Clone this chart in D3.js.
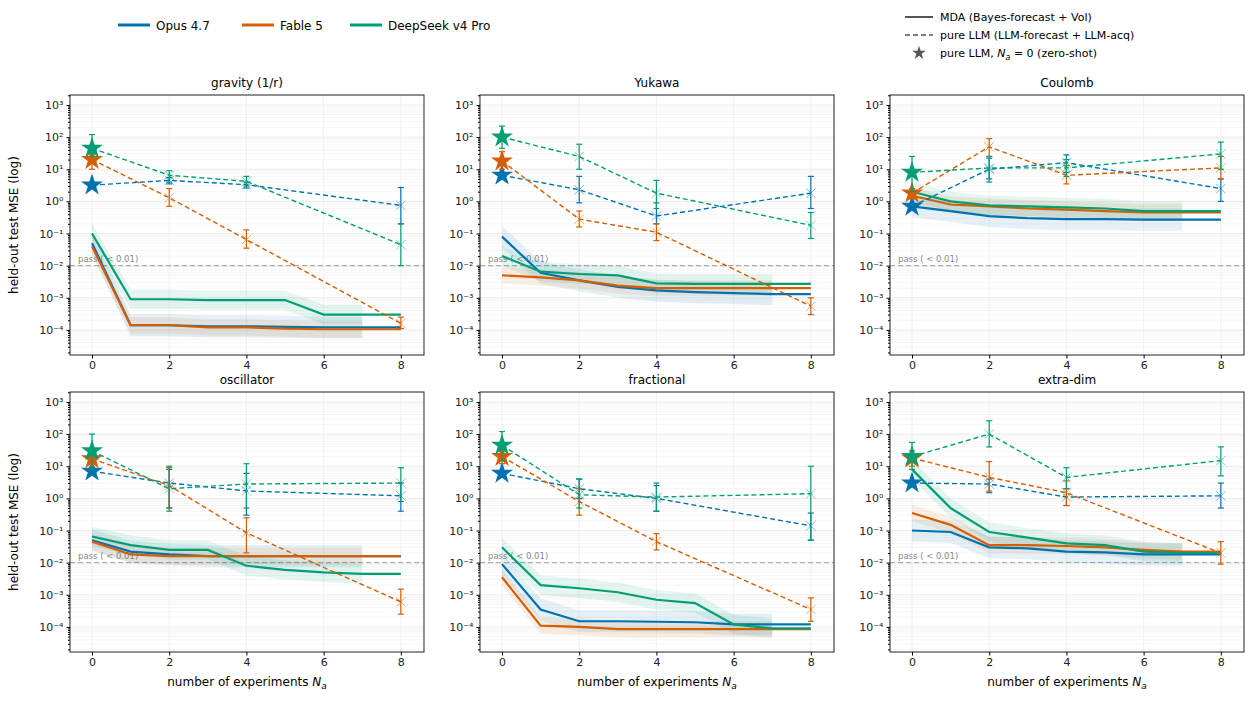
<!DOCTYPE html><html><head><meta charset="utf-8">
<script src="https://cdn.jsdelivr.net/npm/d3@7"></script>
<style>body{margin:0;background:#fff}text{font-family:"DejaVu Sans",sans-serif}</style></head><body>
<svg id="c" width="1254" height="706"></svg>
<script>
const panels=["gravity (1/r)","Yukawa","Coulomb","oscillator","fractional","extra-dim"];
const models=["Opus 4.7","Fable 5","DeepSeek v4 Pro"];
const colors=["#0072b2","#d55e00","#009e73"];
const mdaX=[0,1,2,3,4,5,6,7,8];
const llmX=[0,2,4,8];
const yTicks=[-4,-3,-2,-1,0,1,2,3];
const xTicks=[0,2,4,6,8];
const passLevel=0.01;
const bandFactor=[2.2,1.8,2.0];
// MDA per panel per model
const mda=[
 [[0.05,1.4e-4,1.4e-4,1.3e-4,1.3e-4,1.25e-4,1.2e-4,1.2e-4,1.2e-4],[0.04,1.4e-4,1.4e-4,1.2e-4,1.2e-4,1.1e-4,1.05e-4,1.05e-4,1.05e-4],[0.1,9e-4,9e-4,8.5e-4,8.5e-4,8.5e-4,3e-4,3e-4,3e-4]],
 [[0.08,6e-3,3.5e-3,2.2e-3,1.7e-3,1.5e-3,1.4e-3,1.3e-3,1.3e-3],[5e-3,4.3e-3,3.5e-3,2.4e-3,2e-3,2e-3,2e-3,2e-3,2e-3],[0.02,6.5e-3,5.5e-3,5e-3,2.8e-3,2.7e-3,2.7e-3,2.7e-3,2.7e-3]],
 [[0.7,0.5,0.35,0.3,0.28,0.28,0.27,0.27,0.27],[1.5,0.8,0.7,0.6,0.55,0.5,0.45,0.45,0.45],[2,1,0.75,0.7,0.65,0.6,0.5,0.5,0.5]],
 [[0.05,0.022,0.018,0.016,0.016,0.016,0.016,0.016,0.016],[0.045,0.018,0.016,0.016,0.016,0.016,0.016,0.016,0.016],[0.065,0.035,0.025,0.025,0.008,0.006,0.005,0.0045,0.0045]],
 [[0.009,3.5e-4,1.5e-4,1.5e-4,1.45e-4,1.4e-4,1.2e-4,1.2e-4,1.2e-4],[3.5e-3,1.1e-4,1e-4,8.5e-5,8.5e-5,8.5e-5,8.5e-5,8.5e-5,8.5e-5],[0.03,2e-3,1.6e-3,1.2e-3,7e-4,5.5e-4,1.2e-4,9e-5,9e-5]],
 [[0.1,0.09,0.03,0.028,0.022,0.021,0.018,0.018,0.018],[0.35,0.15,0.035,0.035,0.033,0.03,0.025,0.022,0.022],[8,0.5,0.09,0.06,0.04,0.035,0.022,0.02,0.02]]
];
// pure LLM: values, lower, upper
const llm=[
 [[[3.2,4.5,3.3,0.75],[2.6,3.5,2.6,0.2],[4,5.5,4,2.7]],[[20,1.3,0.065,1.6e-4],[10,0.7,0.035,1.1e-4],[30,2.5,0.13,2.5e-4]],[[45,6.5,4.2,0.045],[25,4,3,0.01],[120,9,6,0.2]]],
 [[[6.5,2.3,0.35,1.8],[5,0.9,0.2,0.6],[8,6,0.9,6]],[[18,0.28,0.11,5.5e-4],[10,0.16,0.06,3e-4],[35,0.5,0.2,1e-3]],[[100,25,1.8,0.18],[45,10,0.6,0.07],[220,60,4.5,0.45]]],
 [[[0.7,10,16,2.5],[0.55,5,8,1]],[[1.8,50,6.5,11],[1.2,25,3.5,5],[2.5,90,13,25]],[[8,11,11,30],[2,4,6,10],[25,25,20,70]]],
 [[[7,3,1.7,1.2],[5.5,0.5,0.3,0.4],[9,8,6,3]],[[17,2.5,0.085,6e-4],[10,0.5,0.02,2.5e-4],[25,9,0.25,1.5e-3]],[[30,2,2.8,3],[8,0.4,0.5,0.8],[100,10,12,9]]],
 [[[6,2,1,0.14],[5,1,0.4,0.05],[7,4,2.5,0.35]],[[20,0.8,0.045,3.5e-4],[12,0.3,0.025,1.5e-4],[30,2,0.08,8e-4]],[[45,1.3,1.1,1.4],[15,0.5,0.4,0.05],[120,4,3,10]]],
 [[[3,2.8,1.1,1.2],[2.5,1.5,0.6,0.5],[3.6,4,2,3]],[[18,4.5,1.5,0.02],[10,1.7,0.6,0.009],[30,14,3.5,0.045]],[[20,100,4.5,15],[8,40,2,5],[55,260,9,40]]]
];
// fix Coulomb Opus upper
llm[2][0][2]=[0.85,22,28,5];

const svg=d3.select("#c");
const colX=[70,480,890], rowY=[95,392], W=354, H=260;
const sup={"-":"⁻","0":"⁰","1":"¹","2":"²","3":"³","4":"⁴"};
const starPath=d3.symbol().type(d3.symbolStar).size(150)();
const crossPath=d3.symbol().type(d3.symbolX).size(60)();

panels.forEach((name,pi)=>{
  const ox=colX[pi%3], oy=rowY[Math.floor(pi/3)];
  const g=svg.append("g").attr("transform",`translate(${ox},${oy})`);
  const x=d3.scaleLinear().domain([-0.57,8.6]).range([0,W]);
  const y=d3.scaleLog().domain([Math.pow(10,-4.78),Math.pow(10,3.31)]).range([H,0]);
  // minor grid
  for(let e=-5;e<=3;e++)for(let m=1;m<10;m++){const v=m*Math.pow(10,e);if(v<y.domain()[0]||v>y.domain()[1])continue;
    g.append("line").attr("x1",0).attr("x2",W).attr("y1",y(v)).attr("y2",y(v)).attr("stroke",m===1?"#e6e6e6":"#f0f0f0").attr("stroke-width",m===1?0.8:0.6);}
  xTicks.forEach(t=>g.append("line").attr("x1",x(t)).attr("x2",x(t)).attr("y1",0).attr("y2",H).attr("stroke","#ececec").attr("stroke-width",0.8));
  g.append("line").attr("x1",0).attr("x2",W).attr("y1",y(passLevel)).attr("y2",y(passLevel)).attr("stroke","#aaa").attr("stroke-dasharray","5,3").attr("stroke-width",1.2);
  g.append("text").attr("x",8).attr("y",y(passLevel)-4).attr("font-size",8.5).attr("fill","#888").text("pass ( < 0.01)");
  // bands
  mda[pi].forEach((vals,mi)=>{
    const bx=mdaX.slice(0,8);
    const area=d3.area().x(d=>x(d)).y0(d=>y(vals[d]/bandFactor[mi])).y1(d=>y(vals[d]*bandFactor[mi]));
    g.append("path").datum(bx).attr("d",area).attr("fill",colors[mi]).attr("opacity",0.1);
  });
  const line=d3.line();
  mda[pi].forEach((vals,mi)=>{
    g.append("path").attr("d",line(mdaX.map((d,i)=>[x(d),y(vals[i])]))).attr("fill","none").attr("stroke",colors[mi]).attr("stroke-width",2.2);
  });
  llm[pi].forEach((s,mi)=>{
    const [v,lo,hi]=s;
    g.append("path").attr("d",line(llmX.map((d,i)=>[x(d),y(v[i])]))).attr("fill","none").attr("stroke",colors[mi]).attr("stroke-width",1.4).attr("stroke-dasharray","5,3");
    llmX.forEach((d,i)=>{
      if(lo&&hi){const cx=x(d);
        g.append("line").attr("x1",cx).attr("x2",cx).attr("y1",y(lo[i])).attr("y2",y(hi[i])).attr("stroke",colors[mi]).attr("stroke-width",1.2);
        [lo[i],hi[i]].forEach(b=>g.append("line").attr("x1",cx-3).attr("x2",cx+3).attr("y1",y(b)).attr("y2",y(b)).attr("stroke",colors[mi]).attr("stroke-width",1.2));}
      if(i===0) g.append("path").attr("d",starPath).attr("transform",`translate(${x(d)},${y(v[i])})`).attr("fill",colors[mi]);
      else g.append("path").attr("d",crossPath).attr("transform",`translate(${x(d)},${y(v[i])})`).attr("fill",colors[mi]).attr("stroke",colors[mi]).attr("stroke-width",0.5);
    });
  });
  g.append("rect").attr("width",W).attr("height",H).attr("fill","none").attr("stroke","#222").attr("stroke-width",1);
  // axes
  const yAx=g.append("g").call(d3.axisLeft(y).tickValues(yTicks.map(e=>Math.pow(10,e))).tickSize(3.5).tickFormat(d=>{const e=Math.round(Math.log10(d));return "10"+String(e).split("").map(c=>sup[c]).join("");}));
  const minors=[];for(let e=-5;e<=3;e++)for(let m=2;m<10;m++){const v=m*Math.pow(10,e);if(v>y.domain()[0]&&v<y.domain()[1])minors.push(v);}
  g.append("g").call(d3.axisLeft(y).tickValues(minors).tickSize(2).tickFormat("")).select(".domain").remove();
  const xAx=g.append("g").attr("transform",`translate(0,${H})`).call(d3.axisBottom(x).tickValues(xTicks).tickSize(3.5).tickFormat(d3.format("d")));
  [yAx,xAx].forEach(a=>{a.select(".domain").remove();a.selectAll("text").attr("font-size",11).attr("fill","#222");});
  g.append("text").attr("x",W/2).attr("y",-8).attr("text-anchor","middle").attr("font-size",12).text(name);
  if(pi%3===0) g.append("text").attr("transform",`translate(-52,${H/2}) rotate(-90)`).attr("text-anchor","middle").attr("font-size",12).text("held-out test MSE (log)");
  if(pi>=3){const t=g.append("text").attr("x",W/2).attr("y",H+34).attr("text-anchor","middle").attr("font-size",12);
    t.append("tspan").text("number of experiments ");t.append("tspan").attr("font-style","italic").text("N");t.append("tspan").attr("font-style","italic").attr("font-size",9).attr("dy",3).text("a");}
});
// model legend
const lx=[118,242,350];
models.forEach((m,i)=>{svg.append("line").attr("x1",lx[i]).attr("x2",lx[i]+32).attr("y1",25).attr("y2",25).attr("stroke",colors[i]).attr("stroke-width",3);
  svg.append("text").attr("x",lx[i]+38).attr("y",29.5).attr("font-size",12).text(m);});
// style legend
const sx=905;
svg.append("line").attr("x1",sx).attr("x2",sx+28).attr("y1",17).attr("y2",17).attr("stroke","#555").attr("stroke-width",2);
svg.append("text").attr("x",sx+35).attr("y",21).attr("font-size",11).text("MDA (Bayes-forecast + Vol)");
svg.append("line").attr("x1",sx).attr("x2",sx+28).attr("y1",35).attr("y2",35).attr("stroke","#555").attr("stroke-width",1.4).attr("stroke-dasharray","5,3");
svg.append("path").attr("d",d3.symbol().type(d3.symbolX).size(30)()).attr("transform",`translate(${sx+14},35)`).attr("fill","#555");
svg.append("text").attr("x",sx+35).attr("y",39).attr("font-size",11).text("pure LLM (LLM-forecast + LLM-acq)");
svg.append("path").attr("d",d3.symbol().type(d3.symbolStar).size(60)()).attr("transform",`translate(${sx+14},53)`).attr("fill","#555");
const t3=svg.append("text").attr("x",sx+35).attr("y",57).attr("font-size",11);
t3.append("tspan").text("pure LLM, ");t3.append("tspan").attr("font-style","italic").text("N");t3.append("tspan").attr("font-style","italic").attr("font-size",8).attr("dy",3).text("a");t3.append("tspan").attr("dy",-3).text(" = 0 (zero-shot)");
</script></body></html>
